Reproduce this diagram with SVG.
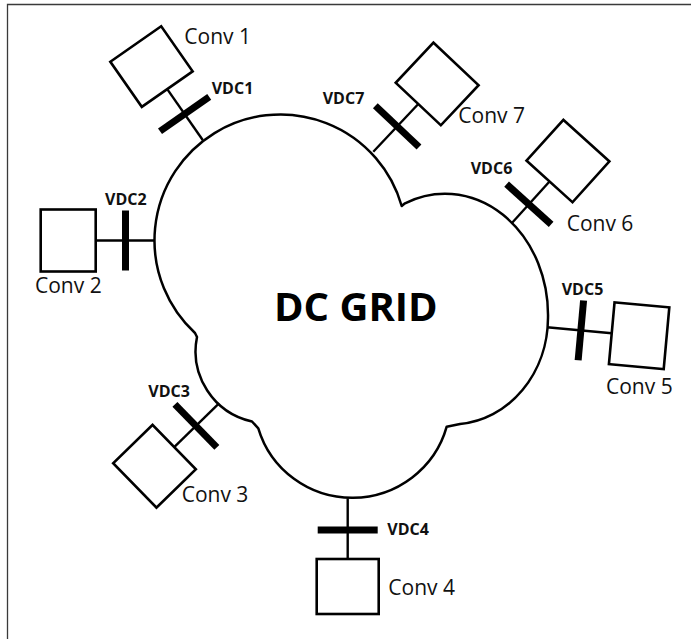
<svg xmlns="http://www.w3.org/2000/svg" width="691" height="639" viewBox="0 0 691 639">
<style>
.frame{fill:none;stroke:#3a3a3a;stroke-width:1.3}
.cloud{fill:#fff;stroke:#000;stroke-width:2.5;stroke-linejoin:round}
.box{fill:#fff;stroke:#000;stroke-width:2.6}
.wire{stroke:#000;stroke-width:2.4;fill:none}
.bar{stroke:#000;stroke-width:7}
.lbl{font-family:"Open Sans","Liberation Sans",sans-serif;font-size:21px;fill:#111}
.vdc{font-family:"Open Sans","Liberation Sans",sans-serif;font-size:16px;font-weight:bold;fill:#111}
.title{font-family:"Open Sans","Liberation Sans",sans-serif;font-size:40px;font-weight:bold;fill:#000}
</style>
<rect width="691" height="639" fill="#fff"/>
<path class="frame" d="M7.5,639 V4.5 H691"/>

<g id="dc-grid">
<path class="cloud" d="M195,333 A126 126 0 1 1 401.7,206 L405,203.3 A103 121.3 0 0 1 548,318 A96 107 0 0 1 460,424 L446.7,426.7 A98 97 0 0 1 258.3,428.3 L252,421.5 A72 72 0 0 1 197,337 Z"/>
<text class="title" x="355.8" y="320.7" text-anchor="middle">DC GRID</text>
</g>

<g id="connectors">
<g id="link1" transform="translate(202.7,140) rotate(-124.9)"><line class="wire" x1="0" y1="0" x2="62" y2="0"/><line class="bar" x1="31.6" y1="-30" x2="31.6" y2="30"/></g>
<g id="link2" transform="translate(155,240.5) rotate(180)"><line class="wire" x1="0" y1="0" x2="59.3" y2="0"/><line class="bar" x1="29.5" y1="-30" x2="29.5" y2="30"/></g>
<g id="link3" transform="translate(219,403.3) rotate(135.7)"><line class="wire" x1="0" y1="0" x2="62.6" y2="0"/><line class="bar" x1="32.3" y1="-30" x2="32.3" y2="30"/></g>
<g id="link4" transform="translate(347.7,498.3) rotate(90)"><line class="wire" x1="0" y1="0" x2="60.7" y2="0"/><line class="bar" x1="31.7" y1="-30" x2="31.7" y2="30"/></g>
<g id="link5" transform="translate(547,327.3) rotate(5.2)"><line class="wire" x1="0" y1="0" x2="65" y2="0"/><line class="bar" x1="34" y1="-30" x2="34" y2="30"/></g>
<g id="link6" transform="translate(511.7,223.3) rotate(-47.9)"><line class="wire" x1="0" y1="0" x2="56.4" y2="0"/><line class="bar" x1="25.6" y1="-30" x2="25.6" y2="30"/></g>
<g id="link7" transform="translate(373.3,151.7) rotate(-46.7)"><line class="wire" x1="0" y1="0" x2="65.6" y2="0"/><line class="bar" x1="34.8" y1="-30" x2="34.8" y2="30"/></g>
<text class="vdc" x="211.7" y="94">VDC1</text>
<text class="vdc" x="105" y="205">VDC2</text>
<text class="vdc" x="148.3" y="396.7">VDC3</text>
<text class="vdc" x="387.3" y="535">VDC4</text>
<text class="vdc" x="561.7" y="295">VDC5</text>
<text class="vdc" x="470.7" y="174">VDC6</text>
<text class="vdc" x="322.7" y="104">VDC7</text>
</g>

<g id="conv1"><rect class="box" transform="translate(202.7,140) rotate(-124.9)" x="62" y="-31" width="55" height="62"/><text class="lbl" x="184.3" y="44">Conv 1</text></g>
<g id="conv2"><rect class="box" transform="translate(155,240.5) rotate(180)" x="59.3" y="-31" width="55" height="62"/><text class="lbl" x="35" y="293.3">Conv 2</text></g>
<g id="conv3"><rect class="box" transform="translate(219,403.3) rotate(135.7)" x="62.6" y="-31" width="55" height="62"/><text class="lbl" x="181.7" y="501.7">Conv 3</text></g>
<g id="conv4"><rect class="box" transform="translate(347.7,498.3) rotate(90)" x="60.7" y="-31" width="55" height="62"/><text class="lbl" x="388.3" y="595">Conv 4</text></g>
<g id="conv5"><rect class="box" transform="translate(547,327.3) rotate(5.2)" x="65" y="-31" width="55" height="62"/><text class="lbl" x="606" y="394">Conv 5</text></g>
<g id="conv6"><rect class="box" transform="translate(511.7,223.3) rotate(-47.9)" x="56.4" y="-31" width="55" height="62"/><text class="lbl" x="566.7" y="230.7">Conv 6</text></g>
<g id="conv7"><rect class="box" transform="translate(373.3,151.7) rotate(-46.7)" x="65.6" y="-31" width="55" height="62"/><text class="lbl" x="458.3" y="123.3">Conv 7</text></g>
</svg>
